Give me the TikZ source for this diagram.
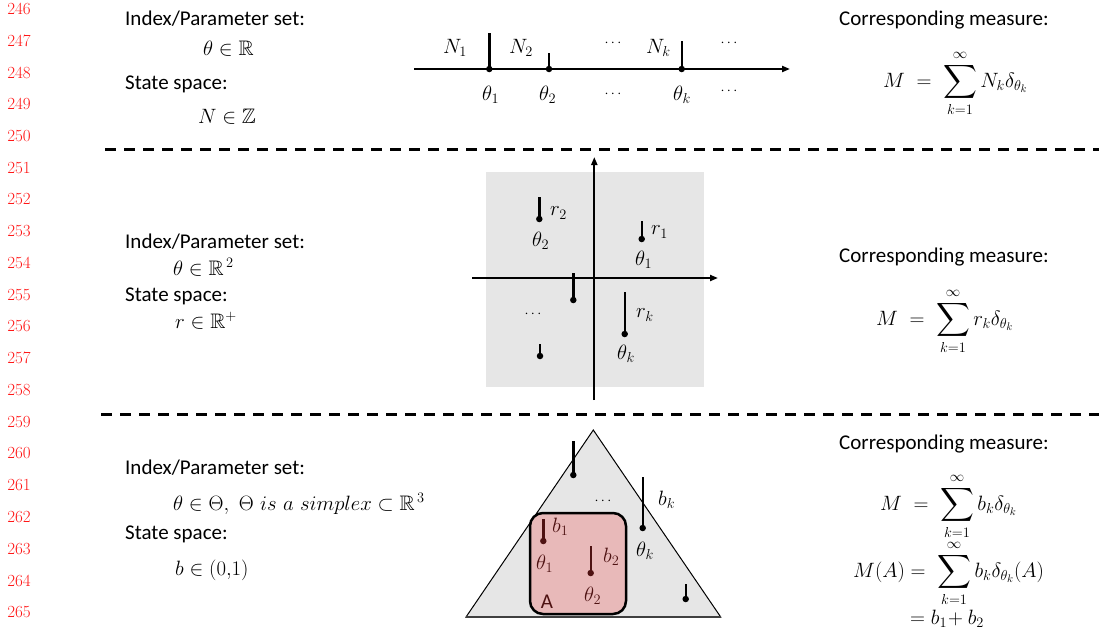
\documentclass[tikz,border=0pt]{standalone}
\usepackage{amssymb}
\usepackage{graphicx}
\usepackage{fontspec}
\newfontfamily\carl{Carlito}
\usetikzlibrary{arrows.meta}
\newcommand{\bigsumop}{\mathop{\vcenter{\hbox{\scalebox{1.12}{$\displaystyle\sum$}}}}\limits}
\definecolor{panelgray}{RGB}{230,230,230}
\definecolor{pinkA}{RGB}{232,185,185}
\definecolor{innerdark}{RGB}{78,18,18}
\definecolor{lnred}{RGB}{255,20,20}
\tikzset{
 txt/.style={font=\carl\fontsize{21}{25}\selectfont, inner sep=0pt},
 mth/.style={font=\fontsize{21}{25}\selectfont, inner sep=0pt},
 lab/.style={font=\fontsize{20}{24}\selectfont, inner sep=0pt},
 lnum/.style={font=\fontsize{17}{20}\selectfont, text=lnred, inner sep=0pt},
 dotnode/.style={circle, fill=black, inner sep=0pt, minimum size=6.5pt},
 stemline/.style={line width=2.4pt},
 axisline/.style={line width=2pt, -{Triangle[length=8pt,width=6pt]}},
 sepline/.style={line width=3pt, dash pattern=on 11pt off 8pt},
 ells/.style={font=\fontsize{14}{16}\selectfont, inner sep=0pt}
}
\begin{document}
\begin{tikzpicture}[x=1pt,y=-1pt]
\useasboundingbox (0,0) rectangle (1099,635);
% line numbers
\foreach \n [count=\i from 0] in {246,...,265}
  \node[lnum] (ln\n) at (19, 9+31.75*\i) {\n};
% separators
\coordinate (s1a) at (105,149); \coordinate (s1b) at (1099,149);
\coordinate (s2a) at (101,414); \coordinate (s2b) at (1099,414);
\draw[sepline] (s1a) -- (s1b);
\draw[sepline] (s2a) -- (s2b);

% ===== top section =====
\node[txt, anchor=base west] (idx1) at (125,25) {Index/Parameter set:};
\node[mth, anchor=base west] (th1) at (203,55) {$\theta \in \mathbb{R}$};
\node[txt, anchor=base west] (ss1) at (125,89) {State space:};
\node[mth, anchor=base west] (n1) at (198,123) {$N \in \mathbb{Z}$};

\coordinate (ax1a) at (414,69); \coordinate (ax1b) at (790,69);
\draw[axisline] (ax1a) -- (ax1b);
\node[dotnode] (p1) at (489.3,69) {};
\node[dotnode] (p2) at (549,69) {};
\node[dotnode] (pk) at (681.7,69) {};
\draw[stemline] (p1.center) -- ++(0,-36);
\draw[stemline] (p2.center) -- ++(0,-16);
\draw[stemline] (pk.center) -- ++(0,-28);
\node[lab, anchor=base west] (N1) at (443,53) {$N_1$};
\node[lab, anchor=base west] (N2) at (509,53) {$N_2$};
\node[ells] (e1) at (613,43) {$\cdots$};
\node[lab, anchor=base west] (Nk) at (646,53) {$N_k$};
\node[ells] (e2) at (729,43) {$\cdots$};
\node[lab, anchor=base west] (t1) at (482,100) {$\theta_1$};
\node[lab, anchor=base west] (t2) at (539,100) {$\theta_2$};
\node[ells] (e3) at (613,94) {$\cdots$};
\node[lab, anchor=base west] (tk) at (673,100) {$\theta_k$};
\node[ells] (e4) at (729,91) {$\cdots$};

\node[txt, anchor=base west] (cm1) at (839,25) {Corresponding measure:};
\node[mth, anchor=base west] (f1) at (883,87) {$\displaystyle M\;=\;\bigsumop_{k=1}^{\infty} N_k\delta_{\theta_k}$};

% ===== middle section =====
\fill[panelgray] (486,172) rectangle (704,387);
\coordinate (vA) at (594.3,400); \coordinate (vB) at (594.3,157);
\coordinate (hA) at (472,278); \coordinate (hB) at (718,278);
\draw[axisline] (vA) -- (vB);
\draw[axisline] (hA) -- (hB);
\node[dotnode] (m2) at (539.3,219) {};
\draw[stemline] (m2.center) -- ++(0,-22);
\node[lab, anchor=west] (r2) at (550,213) {$r_2$};
\node[lab, anchor=west] (mt2) at (532,241) {$\theta_2$};
\node[dotnode] (m1) at (641.7,239) {};
\draw[stemline] (m1.center) -- ++(0,-18);
\node[lab, anchor=west] (r1) at (651,232) {$r_1$};
\node[lab, anchor=west] (mt1) at (635,260) {$\theta_1$};
\node[dotnode] (m3) at (573.3,300) {};
\draw[stemline] (m3.center) -- ++(0,-27);
\node[ells] (e5) at (533,314) {$\cdots$};
\node[dotnode] (mk) at (624.7,334) {};
\draw[stemline] (mk.center) -- ++(0,-42);
\node[lab, anchor=west] (rk) at (636,315) {$r_k$};
\node[lab, anchor=west] (mtk) at (617,354) {$\theta_k$};
\node[dotnode] (m4) at (540,356) {};
\draw[stemline] (m4.center) -- ++(0,-12);

\node[txt, anchor=base west] (idx2) at (125,248) {Index/Parameter set:};
\node[mth, anchor=base west] (th2) at (173,275) {$\theta \in \mathbb{R}^{\,2}$};
\node[txt, anchor=base west] (ss2) at (125,301) {State space:};
\node[mth, anchor=base west] (r2s) at (175,328) {$r \in \mathbb{R}^{+}$};

\node[txt, anchor=base west] (cm2) at (839,262) {Corresponding measure:};
\node[mth, anchor=base west] (f2) at (876,325) {$\displaystyle M\;=\;\bigsumop_{k=1}^{\infty} r_k\delta_{\theta_k}$};

% ===== bottom section =====
\coordinate (tA) at (593.3,430); \coordinate (tL) at (466,617); \coordinate (tR) at (720.7,617);
\filldraw[fill=panelgray, draw=black, line width=1pt] (tA) -- (tR) -- (tL) -- cycle;
\draw[line width=1.8pt, black!75] (tL) -- (tR);
\node[draw=black, line width=2.5pt, fill=pinkA, rounded corners=13pt, minimum width=96pt, minimum height=101pt, inner sep=0pt] (Abox) at (578,563.5) {};
\node[dotnode] (b0) at (573.3,475) {};
\draw[stemline] (b0.center) -- ++(0,-34);
\node[ells] (e6) at (603,501) {$\cdots$};
\node[dotnode] (bk) at (642.7,528) {};
\draw[stemline] (bk.center) -- ++(0,-51);
\node[lab, anchor=west] (bkl) at (658,500) {$b_k$};
\node[lab, anchor=west] (btk) at (636,551) {$\theta_k$};
\node[dotnode, fill=innerdark] (b1) at (543.3,541) {};
\draw[stemline, innerdark] (b1.center) -- ++(0,-22);
\node[lab, anchor=west, text=innerdark] (b1l) at (552,527) {$b_1$};
\node[lab, anchor=west, text=innerdark] (bt1) at (536,564) {$\theta_1$};
\node[dotnode, fill=innerdark] (b2) at (590.7,573) {};
\draw[stemline, innerdark] (b2.center) -- ++(0,-27);
\node[lab, anchor=west, text=innerdark] (b2l) at (603,557) {$b_2$};
\node[lab, anchor=west, text=innerdark] (bt2) at (584,596) {$\theta_2$};
\node[txt, text=innerdark] (Alab) at (547,602) {A};
\node[dotnode] (b3) at (685.7,599) {};
\draw[stemline] (b3.center) -- ++(0,-15);

\node[txt, anchor=base west] (idx3) at (125,474) {Index/Parameter set:};
\node[mth, anchor=base west] (th3) at (173,510) {$\theta \in \Theta,\ \Theta\ is\ a\ simplex \subset \mathbb{R}^{\,3}$};
\node[txt, anchor=base west] (ss3) at (125,539) {State space:};
\node[mth, anchor=base west] (b3s) at (175,575) {$b \in (0{,}1)$};

\node[txt, anchor=base west] (cm3) at (839,449) {Corresponding measure:};
\node[mth, anchor=base west] (f3) at (880,510) {$\displaystyle M\;=\;\bigsumop_{k=1}^{\infty} b_k\delta_{\theta_k}$};
\node[mth, anchor=base west] (f4) at (853,577) {$\displaystyle M(A)=\;\bigsumop_{k=1}^{\infty} b_k\delta_{\theta_k}(A)$};
\node[mth, anchor=base west] (f5) at (910,624) {$= b_1\!+ b_2$};
\end{tikzpicture}
\end{document}
